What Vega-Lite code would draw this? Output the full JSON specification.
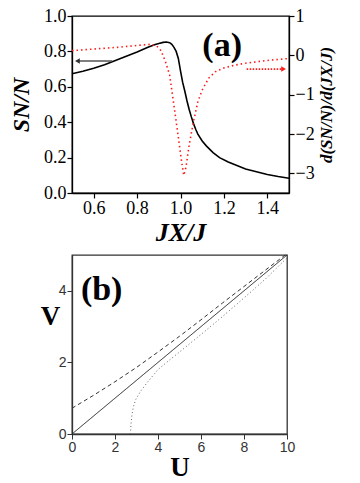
{
  "$schema": "https://vega.github.io/schema/vega-lite/v6.json",
  "background": "white",
  "padding": {"left": 8, "top": 6, "right": 5, "bottom": 5},
  "spacing": 4,
  "config": {
    "axis": {"grid": false, "labelOverlap": false, "labelBound": false},
    "view": {"stroke": "black"},
    "concat": {"spacing": 4}
  },
  "datasets": {
    "sn": [
      {"jx": 0.50, "s": 0.674}, {"jx": 0.55, "s": 0.688}, {"jx": 0.60, "s": 0.705},
      {"jx": 0.65, "s": 0.725}, {"jx": 0.70, "s": 0.749}, {"jx": 0.75, "s": 0.773},
      {"jx": 0.80, "s": 0.797}, {"jx": 0.85, "s": 0.823}, {"jx": 0.88, "s": 0.838},
      {"jx": 0.90, "s": 0.845}, {"jx": 0.92, "s": 0.851}, {"jx": 0.935, "s": 0.853},
      {"jx": 0.95, "s": 0.849}, {"jx": 0.96, "s": 0.840}, {"jx": 0.97, "s": 0.823},
      {"jx": 0.98, "s": 0.800}, {"jx": 0.99, "s": 0.760}, {"jx": 1.00, "s": 0.690},
      {"jx": 1.01, "s": 0.625}, {"jx": 1.02, "s": 0.575}, {"jx": 1.03, "s": 0.520},
      {"jx": 1.04, "s": 0.472}, {"jx": 1.05, "s": 0.430}, {"jx": 1.06, "s": 0.392},
      {"jx": 1.07, "s": 0.360}, {"jx": 1.08, "s": 0.333}, {"jx": 1.10, "s": 0.294},
      {"jx": 1.12, "s": 0.265}, {"jx": 1.15, "s": 0.228}, {"jx": 1.18, "s": 0.200},
      {"jx": 1.22, "s": 0.175}, {"jx": 1.26, "s": 0.155}, {"jx": 1.30, "s": 0.136},
      {"jx": 1.35, "s": 0.120}, {"jx": 1.40, "s": 0.105}, {"jx": 1.45, "s": 0.093},
      {"jx": 1.50, "s": 0.083}
    ],
    "deriv": [
      {"jx": 0.50, "d": 0.12}, {"jx": 0.60, "d": 0.16}, {"jx": 0.70, "d": 0.20},
      {"jx": 0.80, "d": 0.25}, {"jx": 0.86, "d": 0.28}, {"jx": 0.89, "d": 0.24},
      {"jx": 0.91, "d": 0.12}, {"jx": 0.93, "d": -0.15}, {"jx": 0.95, "d": -0.50},
      {"jx": 0.97, "d": -1.28}, {"jx": 0.99, "d": -2.08}, {"jx": 1.005, "d": -2.70},
      {"jx": 1.015, "d": -3.05}, {"jx": 1.025, "d": -2.85}, {"jx": 1.04, "d": -2.28},
      {"jx": 1.06, "d": -1.68}, {"jx": 1.08, "d": -1.18}, {"jx": 1.10, "d": -0.88},
      {"jx": 1.13, "d": -0.58}, {"jx": 1.16, "d": -0.42}, {"jx": 1.20, "d": -0.32},
      {"jx": 1.25, "d": -0.25}, {"jx": 1.30, "d": -0.20}, {"jx": 1.40, "d": -0.13},
      {"jx": 1.50, "d": -0.08}
    ],
    "arrowLeft": [{"jx": 0.525, "jx2": 0.685, "d": -0.143}],
    "arrowRight": [{"jx": 1.305, "jx2": 1.475, "d": -0.35}],
    "labelA": [{"jx": 1.192, "d": 0.235, "t": "(a)"}],
    "uv": [
      {"curve": "A", "u": 0, "v": 0}, {"curve": "A", "u": 10, "v": 5},
      {"curve": "B", "u": 0, "v": 0.72}, {"curve": "B", "u": 1, "v": 1.08},
      {"curve": "B", "u": 2, "v": 1.46}, {"curve": "B", "u": 3, "v": 1.86},
      {"curve": "B", "u": 4, "v": 2.29}, {"curve": "B", "u": 5, "v": 2.73},
      {"curve": "B", "u": 6, "v": 3.19}, {"curve": "B", "u": 7, "v": 3.66},
      {"curve": "B", "u": 8, "v": 4.12}, {"curve": "B", "u": 9, "v": 4.58},
      {"curve": "B", "u": 10, "v": 5.04},
      {"curve": "C", "u": 2.72, "v": 0}, {"curve": "C", "u": 2.74, "v": 0.25},
      {"curve": "C", "u": 2.78, "v": 0.5}, {"curve": "C", "u": 2.85, "v": 0.75},
      {"curve": "C", "u": 2.97, "v": 0.97}, {"curve": "C", "u": 3.2, "v": 1.2},
      {"curve": "C", "u": 3.5, "v": 1.44}, {"curve": "C", "u": 4.0, "v": 1.8},
      {"curve": "C", "u": 4.5, "v": 2.05}, {"curve": "C", "u": 5.0, "v": 2.29},
      {"curve": "C", "u": 6, "v": 2.78}, {"curve": "C", "u": 7, "v": 3.28},
      {"curve": "C", "u": 8, "v": 3.8}, {"curve": "C", "u": 9, "v": 4.33},
      {"curve": "C", "u": 10, "v": 4.92}
    ],
    "labelB": [{"u": 1.38, "v": 4.02, "t": "(b)"}]
  },
  "vconcat": [
    {
      "width": 217,
      "height": 177,
      "view": {"stroke": "black", "strokeWidth": 1.3},
      "layer": [
        {
          "data": {"name": "sn"},
          "mark": {"type": "line", "color": "black", "strokeWidth": 1.6},
          "encoding": {
            "x": {
              "field": "jx", "type": "quantitative",
              "scale": {"domain": [0.5, 1.5], "nice": false, "zero": false},
              "axis": {
                "values": [0.6, 0.8, 1.0, 1.2, 1.4],
                "format": ".1f",
                "labelFlush": false, "labelOverlap": false, "labelSeparation": -30,
                "labelFont": "Liberation Serif", "labelFontSize": 18, "labelColor": "black",
                "labelPadding": 1, "tickSize": 5,
                "tickColor": "black", "domainColor": "black", "domainWidth": 1.3, "tickWidth": 1.2,
                "title": "JX/J",
                "titleFont": "Liberation Serif", "titleFontStyle": "italic", "titleFontWeight": "bold",
                "titleFontSize": 26, "titleColor": "black", "titlePadding": 2
              }
            },
            "y": {
              "field": "s", "type": "quantitative",
              "scale": {"domain": [0, 1], "nice": false},
              "axis": {
                "orient": "left",
                "values": [0, 0.2, 0.4, 0.6, 0.8, 1.0],
                "format": ".1f",
                "labelOverlap": false, "labelSeparation": -30,
                "labelFont": "Liberation Serif", "labelFontSize": 18, "labelColor": "black",
                "labelPadding": 1, "tickSize": 5,
                "tickColor": "black", "domainColor": "black", "domainWidth": 1.3, "tickWidth": 1.2,
                "title": "SN/N",
                "titleFont": "Liberation Serif", "titleFontStyle": "italic", "titleFontWeight": "bold",
                "titleFontSize": 24, "titleColor": "black", "titlePadding": 10
              }
            }
          }
        },
        {
          "layer": [
            {
              "data": {"name": "deriv"},
              "mark": {"type": "line", "color": "#ff1a1a", "strokeWidth": 1.6, "strokeDash": [1.5, 3]},
              "encoding": {
                "x": {"field": "jx", "type": "quantitative"},
                "y": {
                  "field": "d", "type": "quantitative",
                  "scale": {"domain": [-3.5, 1], "nice": false, "zero": false},
                  "axis": {
                    "orient": "right",
                    "values": [-3, -2, -1, 0, 1],
                    "format": "d",
                    "labelOverlap": false, "labelSeparation": -30,
                    "labelFont": "Liberation Serif", "labelFontSize": 18, "labelColor": "black",
                    "labelPadding": 1, "tickSize": 5,
                    "tickColor": "black", "domainColor": "black", "domainWidth": 1.3, "tickWidth": 1.2,
                    "title": "d(SN/N)/d(JX/J)",
                    "titleFont": "Liberation Serif", "titleFontStyle": "italic", "titleFontWeight": "bold",
                    "titleFontSize": 17, "titleColor": "black", "titlePadding": 4,
                    "titleAngle": 270, "titleBaseline": "top"
                  }
                }
              }
            },
            {
              "data": {"name": "arrowRight"},
              "mark": {"type": "rule", "color": "#ff1a1a", "strokeWidth": 1.6, "strokeDash": [1.5, 1.5]},
              "encoding": {
                "x": {"field": "jx", "type": "quantitative"},
                "x2": {"field": "jx2"},
                "y": {"field": "d", "type": "quantitative"}
              }
            },
            {
              "data": {"name": "arrowRight"},
              "mark": {"type": "point", "shape": "triangle-right", "filled": true, "color": "#ff1a1a", "size": 30, "opacity": 1},
              "encoding": {
                "x": {"field": "jx2", "type": "quantitative"},
                "y": {"field": "d", "type": "quantitative"}
              }
            },
            {
              "data": {"name": "arrowLeft"},
              "mark": {"type": "rule", "color": "#555555", "strokeWidth": 1.6},
              "encoding": {
                "x": {"field": "jx", "type": "quantitative"},
                "x2": {"field": "jx2"},
                "y": {"field": "d", "type": "quantitative"}
              }
            },
            {
              "data": {"name": "arrowLeft"},
              "mark": {"type": "point", "shape": "triangle-left", "filled": true, "color": "#333333", "size": 30, "opacity": 1},
              "encoding": {
                "x": {"field": "jx", "type": "quantitative"},
                "y": {"field": "d", "type": "quantitative"}
              }
            },
            {
              "data": {"name": "labelA"},
              "mark": {"type": "text", "font": "Liberation Serif", "fontWeight": "bold", "fontSize": 34, "color": "black", "baseline": "middle", "align": "center"},
              "encoding": {
                "x": {"field": "jx", "type": "quantitative"},
                "y": {"field": "d", "type": "quantitative"},
                "text": {"field": "t"}
              }
            }
          ]
        }
      ],
      "resolve": {"scale": {"y": "independent"}}
    },
    {
      "width": 215,
      "height": 179,
      "view": {"stroke": "#333333", "strokeWidth": 1.3},
      "layer": [
        {
          "data": {"name": "uv"},
          "mark": {"type": "line", "strokeWidth": 1},
          "encoding": {
            "x": {
              "field": "u", "type": "quantitative",
              "scale": {"domain": [0, 10], "nice": false},
              "axis": {
                "values": [0, 1, 2, 3, 4, 5, 6, 7, 8, 9, 10],
                "labelExpr": "datum.value % 2 === 0 ? datum.label : ''",
                "labelFlush": false, "labelOverlap": false,
                "labelFont": "Liberation Sans", "labelFontSize": 14, "labelColor": "#333333",
                "labelPadding": 1,
                "tickSize": {"condition": {"test": "datum.value % 2 === 0", "value": 5}, "value": 3},
                "tickColor": "#333333", "domainColor": "#333333", "domainWidth": 1.3,
                "title": "U",
                "titleFont": "Liberation Serif", "titleFontWeight": "bold",
                "titleFontSize": 27, "titleColor": "black", "titlePadding": 0
              }
            },
            "y": {
              "field": "v", "type": "quantitative",
              "scale": {"domain": [0, 5], "nice": false},
              "axis": {
                "values": [0, 1, 2, 3, 4, 5],
                "labelExpr": "datum.value % 2 === 0 ? datum.label : ''",
                "labelOverlap": false,
                "labelFont": "Liberation Sans", "labelFontSize": 14, "labelColor": "#333333",
                "labelPadding": 1,
                "tickSize": {"condition": {"test": "datum.value % 2 === 0", "value": 5}, "value": 3},
                "tickColor": "#333333", "domainColor": "#333333", "domainWidth": 1.3,
                "title": "V",
                "titleFont": "Liberation Serif", "titleFontWeight": "bold",
                "titleFontSize": 27, "titleColor": "black",
                "titleAngle": 0, "titleAlign": "center", "titleBaseline": "middle",
                "titleX": -22, "titleY": 61
              }
            },
            "strokeDash": {
              "field": "curve", "type": "nominal",
              "scale": {"domain": ["A", "B", "C"], "range": [[1, 0], [4, 3], [1, 2.5]]},
              "legend": null
            },
            "color": {
              "field": "curve", "type": "nominal",
              "scale": {"domain": ["A", "B", "C"], "range": ["#222222", "#333333", "#666666"]},
              "legend": null
            }
          }
        },
        {
          "data": {"name": "labelB"},
          "mark": {"type": "text", "font": "Liberation Serif", "fontWeight": "bold", "fontSize": 34, "color": "black", "baseline": "middle", "align": "center"},
          "encoding": {
            "x": {"field": "u", "type": "quantitative"},
            "y": {"field": "v", "type": "quantitative"},
            "text": {"field": "t"}
          }
        }
      ]
    }
  ]
}
